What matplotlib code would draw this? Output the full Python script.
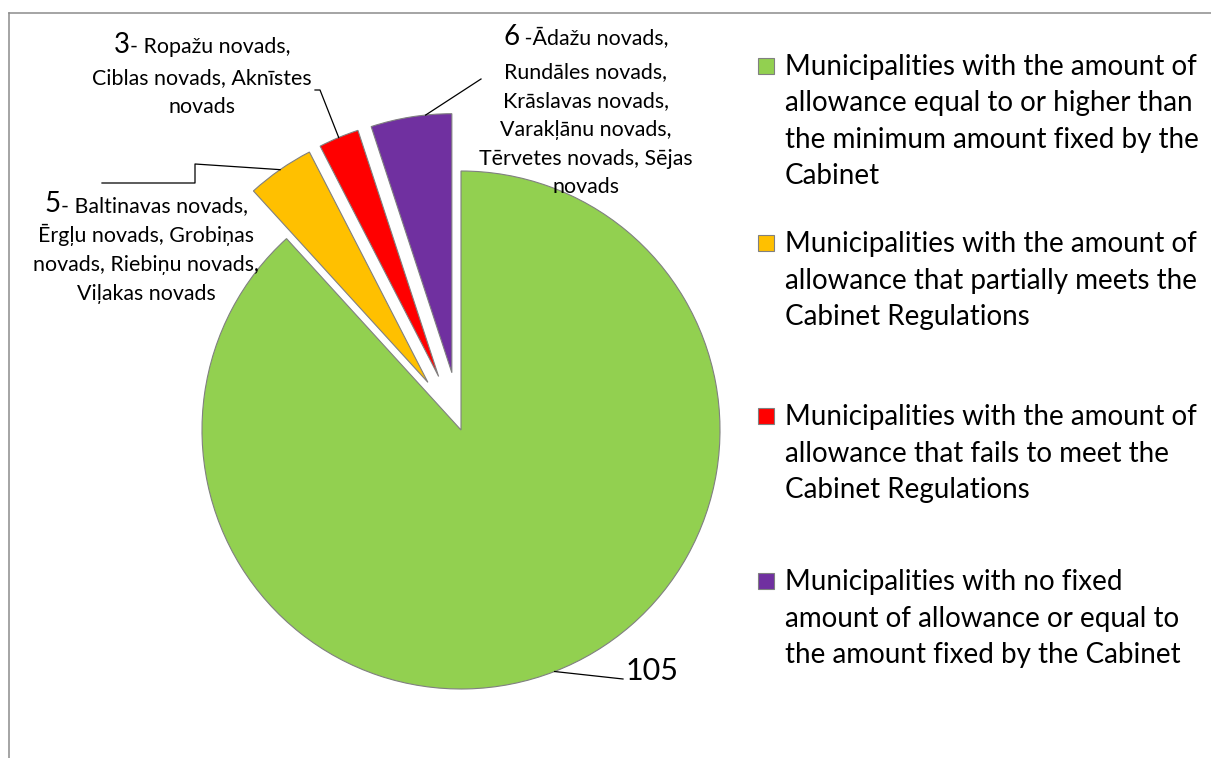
import matplotlib
matplotlib.use('Agg')
import matplotlib.pyplot as plt
import numpy as np
from matplotlib.lines import Line2D
from matplotlib.patches import Rectangle

plt.rcParams['font.family'] = ['Lato', 'DejaVu Sans']

# municipality counts per group
counts = [105, 5, 3, 6]
colors = ['#92D050', '#FFC000', '#FF0000', '#7030A0']

legend_lines = [
    ['Municipalities with the amount of', 'allowance equal to or higher than',
     'the minimum amount fixed by the', 'Cabinet'],
    ['Municipalities with the amount of', 'allowance that partially meets the',
     'Cabinet Regulations'],
    ['Municipalities with the amount of', 'allowance that fails to meet the',
     'Cabinet Regulations'],
    ['Municipalities with no fixed', 'amount of allowance or equal to',
     'the amount fixed by the Cabinet'],
]

# names listed next to the small groups
names_5 = ['- Baltinavas novads,', 'Ērgļu novads, Grobiņas',
           'novads, Riebiņu novads,', 'Viļakas novads']
names_3 = ['- Ropažu novads,', 'Ciblas novads, Aknīstes', 'novads']
names_6 = [' -Ādažu novads,', 'Rundāles novads,', 'Krāslavas novads,',
           'Varakļānu novads,', 'Tērvetes novads, Sējas', 'novads']

W, H = 1211, 758
fig = plt.figure(figsize=(W / 100, H / 100), dpi=100)
ax = fig.add_axes([0, 0, 1, 1])


def Y(y):
    # work in pixel units measured from the top
    return H - y


R = 259
wedges, _ = ax.pie(counts, colors=colors, startangle=90, counterclock=False,
                   center=(461, Y(430)), radius=R, frame=True,
                   explode=[0, 0.224 * R, 0.224 * R, 0.224 * R],
                   wedgeprops=dict(edgecolor='#808080', linewidth=0.8))
ax.set_xlim(0, W)
ax.set_ylim(0, H)
ax.set_aspect('equal')
ax.axis('off')

# chart area frame (only top and left edges fall inside the image)
ax.add_line(Line2D([9, 9], [-5, Y(13)], color='#8c8c8c', lw=1.1))
ax.add_line(Line2D([9, W + 5], [Y(13), Y(13)], color='#8c8c8c', lw=1.1))


def arc_point(w, f):
    a = np.deg2rad(w.theta1 + f * (w.theta2 - w.theta1))
    return w.center[0] + w.r * np.cos(a), w.center[1] + w.r * np.sin(a)


def leader(w, f, pts):
    x0, y0 = arc_point(w, f)
    xs = [x0] + [p[0] for p in pts]
    ys = [y0] + [Y(p[1]) for p in pts]
    ax.add_line(Line2D(xs, ys, color='black', lw=0.9))


renderer = fig.canvas.get_renderer()
LFS = 15.4


def name_block(num, lines, cx, baselines):
    # first line: a big count followed by the names, centred as a whole
    t_num = ax.text(0, Y(baselines[0]), str(num), fontsize=20, va='baseline', ha='left')
    t_rest = ax.text(0, Y(baselines[0]), lines[0], fontsize=LFS, va='baseline', ha='left')
    w1 = t_num.get_window_extent(renderer).width
    w2 = t_rest.get_window_extent(renderer).width
    x0 = cx - (w1 + w2) / 2
    t_num.set_x(x0)
    t_rest.set_x(x0 + w1)
    for line, b in zip(lines[1:], baselines[1:]):
        ax.text(cx, Y(b), line, fontsize=LFS, va='baseline', ha='center')


name_block(counts[1], names_5, 146, [212, 242, 271, 300])
name_block(counts[2], names_3, 202, [53, 84, 113])
name_block(counts[3], names_6, 586, [45, 78, 107, 136, 165, 193])

leader(wedges[0], 0.5, [(623, 679)])
ax.text(626, Y(680), str(counts[0]), fontsize=22, va='baseline', ha='left')
leader(wedges[1], 0.5, [(195, 164), (195, 183), (102, 183)])
leader(wedges[2], 0.5, [(320, 90), (315, 90)])
leader(wedges[3], 0.32, [(481, 79)])

# legend
legend_base = [75, 252, 425, 590]
for lines, col, b in zip(legend_lines, colors, legend_base):
    ax.add_patch(Rectangle((758, Y(b) + 1), 16, 16, facecolor=col,
                           edgecolor='#808080', lw=0.8))
    for i, line in enumerate(lines):
        ax.text(785, Y(b + i * 36.5), line, fontsize=20, va='baseline', ha='left')

fig.savefig('out.png', dpi=100)
